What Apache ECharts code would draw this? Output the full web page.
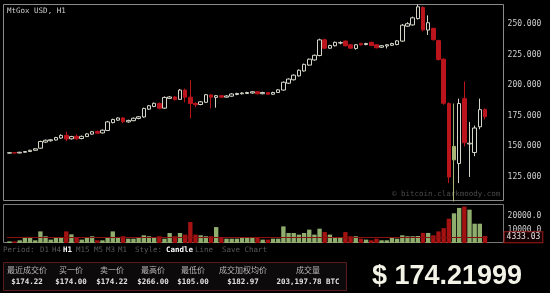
<!DOCTYPE html>
<html>
<head>
<meta charset="utf-8">
<title>MtGox USD, H1</title>
<script src="https://cdn.jsdelivr.net/npm/echarts@6/dist/echarts.min.js"></script>
<style>
    html, body { margin: 0; padding: 0; background: #000; }
    #main { width: 550px; height: 293px; }
</style>
</head>
<body>
<div id="main"></div>
<script>
// 每小时K线 (MtGox USD, H1)，从图上读取的数值
const openPrices = [
    144.5, 144.8, 144.6, 145.2, 145.8, 146.8, 148.5, 153.5, 154.6, 155.2,
    156.8, 159.0, 156.2, 158.2, 156.4, 158.0, 160.0, 162.2, 161.0, 163.0,
    169.4, 171.4, 173.2, 170.0, 171.0, 172.8, 174.0, 180.4, 182.6, 185.0,
    181.2, 189.2, 190.4, 188.4, 196.0, 190.2, 185.0, 184.2, 186.0, 192.0,
    190.0, 191.4, 190.2, 191.0, 192.4, 193.0, 193.2, 193.6, 194.6, 193.0,
    194.0, 192.6, 194.0, 196.0, 201.6, 204.4, 207.6, 211.6, 216.4, 220.6,
    224.2, 237.0, 230.2, 232.2, 234.4, 236.0, 233.0, 230.0, 234.0, 233.2,
    235.0, 233.0, 231.0, 232.0, 232.6, 233.2, 236.0, 248.2, 249.2, 254.4,
    263.4, 245.0, 246.4, 236.4, 221.2, 185.0, 139.0, 136.0, 189.0, 152.0,
    145.0, 166.0, 180.0
];
const closePrices = [
    144.8, 144.6, 145.2, 145.8, 146.8, 148.0, 154.0, 155.0, 155.4, 157.2,
    159.0, 156.0, 158.0, 156.2, 158.2, 160.2, 162.0, 160.8, 163.2, 170.0,
    172.0, 173.2, 170.2, 171.2, 173.0, 174.2, 181.0, 183.2, 185.2, 181.2,
    190.0, 190.4, 188.2, 196.0, 190.2, 185.0, 184.0, 186.4, 192.2, 190.2,
    191.4, 190.2, 191.2, 192.8, 193.2, 193.6, 194.0, 194.6, 193.0, 194.0,
    192.6, 194.0, 196.2, 202.4, 205.0, 208.2, 212.2, 217.0, 221.2, 224.4,
    237.0, 230.2, 232.4, 235.0, 234.8, 232.2, 230.2, 233.0, 233.0, 234.0,
    232.4, 230.6, 232.2, 233.0, 234.0, 236.2, 249.0, 250.2, 255.0, 264.0,
    245.2, 251.0, 237.2, 221.0, 185.2, 125.0, 150.0, 185.0, 153.0, 152.6,
    165.0, 180.0, 174.22
];
const lowPrices = [
    144.2, 144.2, 144.3, 144.9, 145.5, 146.4, 148.0, 152.8, 153.9, 154.8,
    156.2, 154.2, 155.6, 155.4, 155.8, 157.6, 159.5, 160.2, 160.6, 162.6,
    168.8, 170.8, 169.0, 169.4, 170.6, 172.2, 173.4, 179.8, 182.0, 180.4,
    180.8, 188.6, 187.6, 188.0, 186.0, 173.0, 182.0, 183.6, 185.4, 181.0,
    181.6, 189.6, 189.8, 190.6, 191.8, 192.4, 192.8, 193.0, 192.4, 192.6,
    192.0, 192.2, 193.6, 195.6, 201.0, 203.8, 207.0, 211.0, 215.8, 220.0,
    223.6, 229.4, 229.6, 231.6, 233.4, 231.6, 229.6, 229.0, 232.4, 232.6,
    231.8, 230.0, 230.4, 230.0, 232.0, 232.6, 235.4, 247.6, 248.6, 253.6,
    244.0, 241.0, 236.4, 220.0, 184.0, 120.0, 105.0, 120.0, 150.0, 125.0,
    142.0, 164.0, 172.0
];
const highPrices = [
    145.2, 145.1, 145.5, 146.1, 147.2, 148.5, 154.6, 155.6, 156.0, 157.8,
    159.8, 162.0, 158.6, 159.8, 158.8, 160.8, 162.6, 163.0, 163.8, 170.8,
    172.6, 173.8, 174.0, 171.8, 173.6, 174.8, 181.6, 183.8, 185.8, 185.8,
    190.8, 191.0, 191.0, 196.8, 197.2, 204.0, 186.0, 187.0, 192.8, 192.6,
    192.0, 192.0, 191.8, 193.4, 193.8, 194.2, 194.6, 195.2, 195.0, 194.6,
    194.4, 194.6, 196.8, 203.0, 205.6, 208.8, 212.8, 217.6, 221.8, 225.0,
    238.0, 238.0, 233.0, 235.6, 235.8, 236.6, 233.6, 233.6, 234.6, 234.6,
    235.6, 233.6, 232.8, 233.6, 234.6, 236.8, 250.0, 251.4, 256.0, 266.0,
    264.4, 257.0, 247.0, 237.2, 222.0, 186.0, 185.0, 189.0, 203.0, 170.0,
    167.0, 189.0, 181.0
];
const volumes = [
    1200, 1200, 2000, 4500, 4500, 2000, 8600, 5000, 2500, 3700,
    3700, 8600, 6400, 4400, 2500, 3700, 5000, 2000, 2000, 4400,
    8600, 4400, 5000, 3200, 3200, 3700, 5700, 5000, 4400, 5000,
    3200, 7400, 5000, 7400, 6200, 15600, 6200, 5700, 5000, 5000,
    11800, 4400, 3200, 3200, 3200, 3700, 3700, 4400, 4400, 2500,
    2500, 3200, 3200, 12300, 7400, 7400, 6200, 7400, 9900, 6200,
    10600, 8100, 6200, 3700, 3700, 8100, 5000, 5000, 3200, 2500,
    2000, 3200, 2000, 2000, 4400, 3200, 5700, 5000, 5000, 5200,
    7400, 7400, 5700, 8600, 11000, 18000, 22000, 26000, 27000, 24700,
    14300, 14300, 5200
];
const priceTicks = [125, 150, 175, 200, 225, 250];
const volumeTicks = [10000, 20000];
const lastVolume = 4333.03;
const lastPrice = '$ 174.21999';
const markedCandle = 86; // 光标所在的K线
const periods = ['D1', 'H4', 'H1', 'M15', 'M5', 'M3', 'M1'];
const tableHeads = ['最近成交价', '买一价', '卖一价', '最高价', '最低价', '成交加权均价', '成交量'];
const tableValues = ['$174.22', '$174.00', '$174.22', '$266.00', '$105.00', '$182.97', '203,197.78 BTC'];

// 小时标签
const hours = [];
const start = Date.UTC(2013, 3, 7, 6);
for (let i = 0; i < openPrices.length; i++) {
    const d = new Date(start + i * 3600e3);
    hours.push((d.getUTCMonth() + 1) + '-' + d.getUTCDate() + ' ' + d.getUTCHours() + ':00');
}

const UP = '#d4d4c8';
const DOWN = '#bb141c';
const MARK = '#a9b577';
const VOL_UP = '#8fae6e';
const VOL_DOWN = '#a51212';
const MONO = '"DejaVu Sans Mono", monospace';

const candleData = openPrices.map((o, i) => {
    const item = {value: [o, closePrices[i], lowPrices[i], highPrices[i]]};
    if (i === markedCandle) {
        item.itemStyle = {color: MARK, borderColor: MARK};
    }
    return item;
});
const volumeData = volumes.map((v, i) => ({
    value: v,
    itemStyle: {color: closePrices[i] >= openPrices[i] ? VOL_UP : VOL_DOWN}
}));

// 工具栏文字
const toolbar = [
    ['Period:', 3, false], ['D1', 40, false], ['H4', 52, false], ['H1', 63, true],
    ['M15', 76, false], ['M5', 94, false], ['M3', 106, false], ['M1', 118, false],
    ['Style:', 135, false], ['Candle', 166, true], ['Line', 195, false], ['Save Chart', 222, false]
];
const colX = [27, 71, 112, 153, 193, 243, 308];

const graphics = [
    {type: 'rect', shape: {x: 3.5, y: 4.5, width: 500, height: 196}, style: {fill: 'none', stroke: '#8a8a8a', lineWidth: 1}, silent: true},
    {type: 'rect', shape: {x: 3.5, y: 204.5, width: 500, height: 38}, style: {fill: 'none', stroke: '#7a7a7a', lineWidth: 1}, silent: true},
    {type: 'text', x: 7, y: 11, style: {text: 'MtGox USD, H1', fill: '#d0d0d0', font: '7.5px ' + MONO, textVerticalAlign: 'middle'}},
    {type: 'text', x: 392, y: 194, style: {text: '© bitcoin.clarkmoody.com', fill: '#4a4a4a', font: '7.5px ' + MONO, textVerticalAlign: 'middle'}},
    {type: 'rect', shape: {x: 3.5, y: 262.5, width: 343, height: 28}, style: {fill: '#0c0a0a', stroke: '#5c1a1a', lineWidth: 1}, silent: true},
    {type: 'text', x: 447, y: 277, style: {text: lastPrice, fill: '#f2f2e6', font: 'bold 27px "Liberation Sans", Arial', textAlign: 'center', textVerticalAlign: 'middle'}}
];
toolbar.forEach(([t, x, on]) => {
    graphics.push({type: 'text', x: x, y: 250, style: {
        text: t, fill: on ? '#ffffff' : '#5a5a5a',
        font: (on ? 'bold ' : '') + '7.5px ' + MONO, textVerticalAlign: 'middle'
    }});
});
tableHeads.forEach((t, i) => {
    graphics.push({type: 'text', x: colX[i], y: 270, style: {
        text: t, fill: '#b8b8b8', font: '8px "Noto Sans CJK SC"', textAlign: 'center', textVerticalAlign: 'middle'
    }});
    graphics.push({type: 'text', x: colX[i], y: 282, style: {
        text: tableValues[i], fill: '#e2e2e2', font: 'bold 7.5px ' + MONO, textAlign: 'center', textVerticalAlign: 'middle'
    }});
});

const myChart = echarts.init(document.getElementById('main'));
const option = {
    backgroundColor: '#000',
    animation: false,
    grid: [
        {left: 6.8, top: 4, width: 480.8, height: 196},
        {left: 6.8, top: 204, width: 480.8, height: 39}
    ],
    xAxis: [
        {type: 'category', gridIndex: 0, data: hours, show: false},
        {type: 'category', gridIndex: 1, data: hours, show: false}
    ],
    yAxis: [
        {
            type: 'value', gridIndex: 0, position: 'right', min: 106.2, max: 266.3,
            axisLine: {show: false}, axisTick: {show: false}, splitLine: {show: false},
            axisLabel: {
                customValues: priceTicks, margin: 20, color: '#d0d0d0',
                fontFamily: 'DejaVu Sans Mono', fontSize: 8,
                formatter: v => v.toFixed(3)
            }
        },
        {
            type: 'value', gridIndex: 1, position: 'right', min: 0, max: 28900,
            axisLine: {show: false}, axisTick: {show: false}, splitLine: {show: false},
            axisLabel: {
                customValues: volumeTicks, margin: 20, color: '#d0d0d0',
                fontFamily: 'DejaVu Sans Mono', fontSize: 8,
                formatter: v => v.toFixed(1)
            }
        }
    ],
    series: [
        {
            name: 'MtGox USD',
            type: 'candlestick',
            xAxisIndex: 0, yAxisIndex: 0,
            barWidth: '78%',
            clip: true,
            itemStyle: {color: '#000', color0: DOWN, borderColor: UP, borderColor0: DOWN, borderWidth: 1},
            data: candleData
        },
        {
            name: 'Volume',
            type: 'bar',
            xAxisIndex: 1, yAxisIndex: 1,
            barCategoryGap: '16%',
            data: volumeData,
            markLine: {
                silent: true,
                symbol: ['none', 'none'],
                lineStyle: {color: '#8a1010', width: 1, type: 'solid'},
                label: {
                    show: true, position: 'end', distance: 17,
                    formatter: lastVolume.toFixed(2),
                    color: '#e0e0e0', fontFamily: 'DejaVu Sans Mono', fontSize: 8,
                    backgroundColor: '#140000', borderColor: '#a01a1a', borderWidth: 1, padding: [1, 2]
                },
                data: [{yAxis: lastVolume}]
            }
        }
    ],
    graphic: graphics
};
myChart.setOption(option);
</script>
</body>
</html>
